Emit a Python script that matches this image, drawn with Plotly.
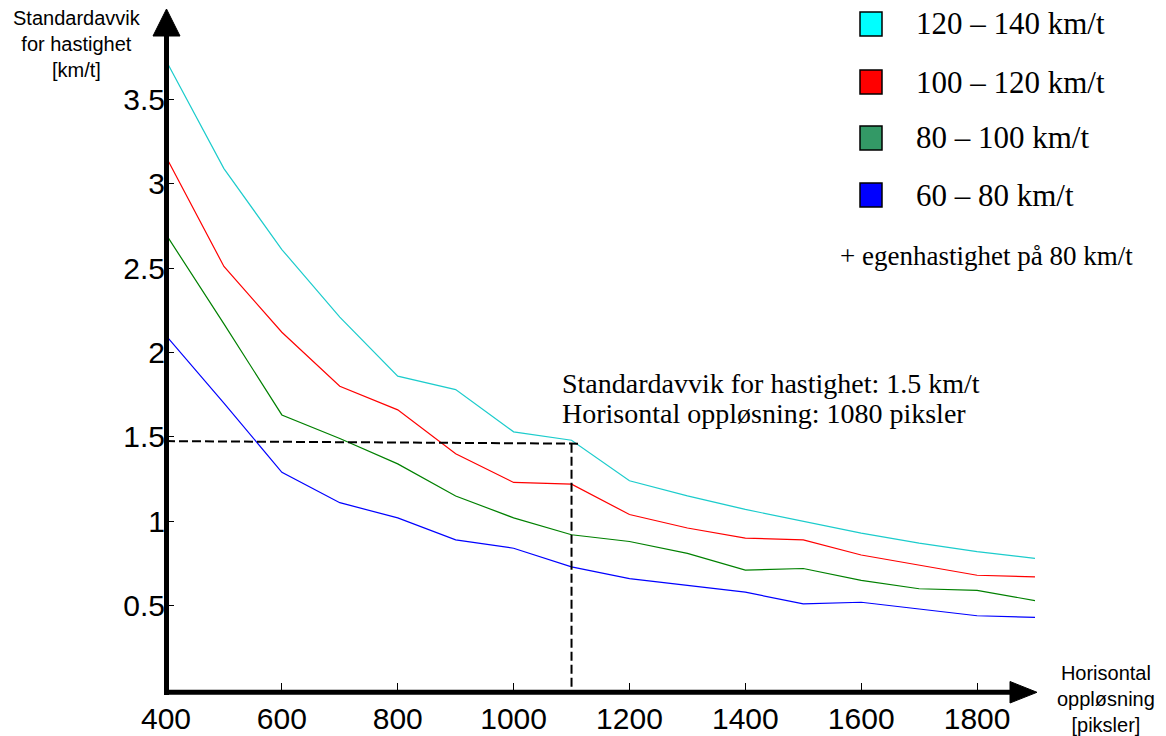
import plotly.graph_objects as go

# ---- data ----
x_res = [400, 500, 600, 700, 800, 900, 1000, 1100, 1200, 1300, 1400, 1500, 1600, 1700, 1800, 1900]
sd_120_140 = [3.73, 3.09, 2.61, 2.21, 1.86, 1.78, 1.53, 1.48, 1.24, 1.15, 1.07, 1.00, 0.93, 0.87, 0.82, 0.78]
sd_100_120 = [3.16, 2.51, 2.12, 1.80, 1.66, 1.40, 1.23, 1.22, 1.04, 0.96, 0.90, 0.89, 0.80, 0.74, 0.68, 0.67]
sd_80_100 = [2.70, 2.17, 1.63, 1.49, 1.34, 1.15, 1.02, 0.92, 0.88, 0.81, 0.71, 0.72, 0.65, 0.60, 0.59, 0.53]
sd_60_80 = [2.10, 1.70, 1.29, 1.11, 1.02, 0.89, 0.84, 0.73, 0.66, 0.62, 0.58, 0.51, 0.52, 0.48, 0.44, 0.43]

series_names = ["120 – 140 km/t", "100 – 120 km/t", "80 – 100 km/t", "60 – 80 km/t"]
series_values = [sd_120_140, sd_100_120, sd_80_100, sd_60_80]
line_colors = ["#1ccccc", "#ff0000", "#008000", "#0000ff"]
legend_fill = ["#00ffff", "#ff0000", "#339966", "#0000ff"]

x_ticks = [400, 600, 800, 1000, 1200, 1400, 1600, 1800]
y_ticks = [0.5, 1, 1.5, 2, 2.5, 3, 3.5]
y_tick_text = ["0.5", "1", "1.5", "2", "2.5", "3", "3.5"]

guide_x = 1100
guide_y_left = 1.475
guide_y_right = 1.46
guide_x_end = 1112

# ---- layout helpers (pixel -> paper) ----
W, H = 1166, 736
ML, MR, MT, MB = 166, 131, 15, 46
PW, PH = W - ML - MR, H - MT - MB


def px(xp):
    return (xp - ML) / PW


def py(yp):
    return (H - MB - yp) / PH


fig = go.Figure()
for name, vals, col in zip(series_names, series_values, line_colors):
    fig.add_trace(go.Scatter(x=x_res, y=vals, mode="lines", name=name,
                             line=dict(color=col, width=1.2), showlegend=False))

shapes = []
# dashed guide lines
shapes.append(dict(type="line", xref="x", yref="y", x0=x_res[0], y0=guide_y_left,
                   x1=guide_x_end, y1=guide_y_right,
                   line=dict(color="black", width=2, dash="9px,4px")))
shapes.append(dict(type="line", xref="x", yref="y", x0=guide_x, y0=guide_y_right,
                   x1=guide_x, y1=0,
                   line=dict(color="black", width=2, dash="9px,4px")))
# axis lines
shapes.append(dict(type="line", xref="paper", yref="paper",
                   x0=px(166.5), x1=px(166.5), y0=py(695), y1=py(34),
                   line=dict(color="black", width=5)))
shapes.append(dict(type="line", xref="paper", yref="paper",
                   x0=px(164), x1=px(1012), y0=py(692.3), y1=py(692.3),
                   line=dict(color="black", width=5)))
# axis arrow heads
shapes.append(dict(type="path", xref="paper", yref="paper",
                   path=f"M {px(166.5)},{py(9)} L {px(153)},{py(36)} L {px(180)},{py(36)} Z",
                   fillcolor="black", line=dict(color="black", width=1)))
shapes.append(dict(type="path", xref="paper", yref="paper",
                   path=f"M {px(1037)},{py(692.3)} L {px(1010)},{py(681.5)} L {px(1010)},{py(703)} Z",
                   fillcolor="black", line=dict(color="black", width=1)))

annotations = []
# legend squares and labels
row_y = [24, 82, 138, 195]
for name, fc, ry in zip(series_names, legend_fill, row_y):
    shapes.append(dict(type="rect", xref="paper", yref="paper",
                       x0=px(860), x1=px(882), y0=py(ry + 12), y1=py(ry - 12),
                       fillcolor=fc, line=dict(color="black", width=1.5)))
    annotations.append(dict(xref="paper", yref="paper", x=px(914), y=py(ry),
                            xanchor="left", yanchor="middle", showarrow=False, text=name,
                            font=dict(family="Liberation Serif", size=31, color="black")))
annotations.append(dict(xref="paper", yref="paper", x=px(838), y=py(256),
                        xanchor="left", yanchor="middle", showarrow=False,
                        text="+ egenhastighet på 80 km/t",
                        font=dict(family="Liberation Serif", size=27, color="black")))
# guide text
annotations.append(dict(xref="paper", yref="paper", x=px(560), y=py(383),
                        xanchor="left", yanchor="middle", showarrow=False,
                        text="Standardavvik for hastighet: 1.5 km/t",
                        font=dict(family="Liberation Serif", size=28, color="black")))
annotations.append(dict(xref="paper", yref="paper", x=px(560), y=py(413),
                        xanchor="left", yanchor="middle", showarrow=False,
                        text="Horisontal oppløsning: 1080 piksler",
                        font=dict(family="Liberation Serif", size=28, color="black")))
# axis titles
annotations.append(dict(xref="paper", yref="paper", x=px(77), y=py(44),
                        xanchor="center", yanchor="middle", showarrow=False,
                        text="Standardavvik<br>for hastighet<br>[km/t]", align="center",
                        font=dict(family="Liberation Sans", size=20, color="black")))
annotations.append(dict(xref="paper", yref="paper", x=px(1106), y=py(699),
                        xanchor="center", yanchor="middle", showarrow=False,
                        text="Horisontal<br>oppløsning<br>[piksler]", align="center",
                        font=dict(family="Liberation Sans", size=20, color="black")))

fig.update_layout(
    width=W, height=H,
    margin=dict(l=ML, r=MR, t=MT, b=MB, pad=0, autoexpand=False),
    paper_bgcolor="white", plot_bgcolor="white",
    shapes=shapes, annotations=annotations,
    xaxis=dict(range=[400, 1900], showgrid=False, zeroline=False, showline=False,
               automargin=False,
               ticks="inside", ticklen=7, tickwidth=1, tickcolor="black",
               ticklabelstandoff=8,
               tickvals=x_ticks, ticktext=[str(v) for v in x_ticks],
               tickfont=dict(family="Liberation Sans", size=30, color="black")),
    yaxis=dict(range=[0, 4], showgrid=False, zeroline=False, showline=False,
               automargin=False,
               ticks="inside", ticklen=8, tickwidth=1, tickcolor="black",
               tickvals=y_ticks, ticktext=y_tick_text,
               tickfont=dict(family="Liberation Sans", size=30, color="black")),
)

fig.write_html("out.html", config={"displayModeBar": False},
               post_script="document.body.style.margin='0px';")
